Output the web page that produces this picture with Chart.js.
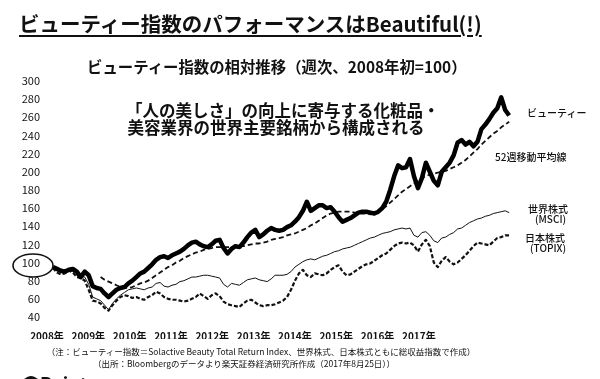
<!DOCTYPE html>
<html lang="ja">
<head>
<meta charset="utf-8">
<title>ビューティー指数のパフォーマンス</title>
<script src="https://cdn.jsdelivr.net/npm/chart.js@4/dist/chart.umd.min.js"></script>
<style>
    html, body { margin: 0; padding: 0; background: #fff; }
    body { width: 600px; height: 379px; position: relative; overflow: hidden;
           font-family: 'Noto Sans CJK JP', 'Noto Sans', sans-serif; color: #111; }
    #wrap { position: absolute; left: 0; top: 0; width: 600px; height: 379px; }
    .txt { position: absolute; white-space: nowrap; line-height: 1; }
    #title { left: 19px; top: 13px; font-size: 20.5px; font-weight: 700;
             text-decoration: underline; text-decoration-thickness: 2px; text-underline-offset: 3px; }
    #subtitle { left: 87px; top: 59px; font-size: 15.4px; font-weight: 700; }
    #note { left: 126px; top: 102px; font-size: 16.5px; font-weight: 700; line-height: 17px; text-align: center; width: 300px; }
    .lbl { font-size: 10px; font-weight: 500; }
    .foot { font-size: 8.5px; text-align: center; }
    #point { left: 22px; top: 374px; font-size: 18px; font-weight: 700; }
</style>
</head>
<body>
<div id="wrap"><canvas id="chart"></canvas></div>

<div class="txt" id="title">ビューティー指数のパフォーマンスはBeautiful(!)</div>
<div class="txt" id="subtitle">ビューティー指数の相対推移（週次、2008年初=100）</div>
<div class="txt" id="note">「人の美しさ」の向上に寄与する化粧品・<br>美容業界の世界主要銘柄から構成される</div>

<div class="txt lbl" style="left:527px; top:108px;">ビューティー</div>
<div class="txt lbl" style="left:495px; top:152px;">52週移動平均線</div>
<div class="txt lbl" style="left:528px; top:204px;">世界株式</div>
<div class="txt lbl" style="left:535px; top:214px;">(MSCI)</div>
<div class="txt lbl" style="left:525px; top:233px;">日本株式</div>
<div class="txt lbl" style="left:530px; top:243px;">(TOPIX)</div>

<div class="txt foot" style="left:0; width:522px; top:347px;">（注：ビューティー指数＝Solactive Beauty Total Return Index、世界株式、日本株式ともに総収益指数で作成）</div>
<div class="txt foot" style="left:0; width:488px; top:359px;">（出所：Bloombergのデータより楽天証券経済研究所作成（2017年8月25日））</div>
<div class="txt" id="point">●Point</div>

<script>
// 月次で読み取った値（2008年1月〜2017年8月、2008年初=100）
const startYear = 2008;
const yearLabels = ['2008年', '2009年', '2010年', '2011年', '2012年', '2013年', '2014年', '2015年', '2016年', '2017年'];

const beauty = [
    95, 93, 91, 90, 92, 93, 90, 84, 90, 86,
    74, 72, 71, 66, 62, 66, 70, 72, 73, 77,
    80, 84, 88, 90, 94, 98, 103, 106, 107, 105,
    108, 110, 112, 115, 119, 122, 123, 120, 118, 117,
    120, 124, 125, 116, 110, 115, 118, 117, 122, 128,
    133, 136, 128, 131, 135, 138, 136, 135, 136, 139,
    141, 145, 150, 157, 167, 157, 160, 163, 163, 160,
    161, 156, 150, 145, 147, 149, 152, 155, 156, 156,
    155, 154, 156, 160, 167, 180, 195, 207, 204, 205,
    214, 195, 182, 193, 210, 200, 190, 185, 200, 205,
    210, 218, 232, 235, 230, 233, 228, 233, 247, 252,
    258, 265, 270, 282, 268, 262
];

const ma52 = [
    null, null, null, null, null, null, null, null, null, null,
    null, null, 84, 81, 79, 77, 75, 73, 72, 72,
    73, 75, 77, 78, 80, 83, 86, 89, 92, 95,
    97, 100, 102, 105, 107, 109, 111, 112, 114, 115,
    116, 117, 117, 117, 117, 117, 117, 118, 118, 119,
    120, 121, 121, 122, 123, 125, 126, 127, 128, 130,
    131, 132, 134, 136, 138, 141, 143, 146, 149, 152,
    154, 155, 156, 156, 156, 156, 155, 155, 154, 154,
    153, 154, 156, 159, 162, 166, 170, 174, 178, 181,
    184, 187, 190, 193, 195, 197, 198, 199, 200, 201,
    203, 205, 207, 210, 213, 217, 221, 225, 230, 234,
    238, 242, 245, 249, 252, 255
];

const msci = [
    94, 91, 89, 89, 91, 90, 86, 85, 84, 76,
    62, 60, 58, 53, 48, 55, 60, 64, 67, 70,
    71, 72, 71, 70, 72, 73, 77, 78, 74, 73,
    75, 76, 79, 80, 82, 84, 84, 85, 86, 86,
    85, 84, 83, 76, 73, 77, 76, 75, 78, 81,
    82, 83, 81, 80, 79, 82, 86, 86, 86, 87,
    90, 95, 98, 101, 103, 104, 103, 105, 107, 108,
    110, 112, 113, 115, 116, 117, 119, 121, 123, 125,
    127, 128, 130, 132, 133, 134, 136, 137, 138, 137,
    138, 130, 128, 133, 134, 130, 124, 122, 127, 128,
    131, 133, 137, 138, 141, 144, 146, 148, 149, 151,
    152, 154, 155, 156, 157, 155
];

const topix = [
    94, 89, 87, 88, 91, 89, 84, 83, 80, 70,
    58, 57, 55, 50, 47, 53, 58, 62, 64, 63,
    61, 62, 60, 59, 62, 64, 68, 66, 62, 60,
    59, 59, 58, 57, 58, 60, 62, 66, 63, 60,
    64, 66, 63, 57, 54, 53, 52, 51, 55, 58,
    59, 56, 53, 52, 53, 53, 54, 56, 58, 62,
    70, 80, 88, 92, 86, 84, 88, 87, 86, 88,
    92, 95, 97, 90, 86, 87, 90, 93, 96, 98,
    99, 102, 105, 108, 110, 114, 118, 121, 122, 121,
    122, 119, 112, 120, 125, 118, 100, 95, 102, 106,
    101, 98, 100, 104, 108, 113, 118, 122, 121, 120,
    119, 123, 127, 128, 130, 130
];

// 年の目盛り（元の図では目盛り文字が等間隔で少し左に寄っている）
const labelStart = 2007.874;
const labelStep = 0.868;

document.addEventListener('DOMContentLoaded', function() {
    const ctx = document.getElementById('chart');

    // 月番号を年の小数に変換
    function toPoints(values) {
        return values.map((v, i) => ({ x: startYear + i / 12, y: v }));
    }

    // 「100」を囲む楕円
    const circle100 = {
        id: 'circle100',
        afterDraw(chart) {
            const y = chart.scales.y.getPixelForValue(100);
            const c = chart.ctx;
            c.save();
            c.beginPath();
            c.ellipse(chart.scales.y.right - 12, y + 3, 20, 11.5, 0, 0, Math.PI * 2);
            c.lineWidth = 1.6;
            c.strokeStyle = '#111';
            c.stroke();
            c.restore();
        }
    };

    Chart.defaults.font.family = "'Noto Sans CJK JP', 'Noto Sans', sans-serif";
    Chart.defaults.color = '#111';

    new Chart(ctx, {
        type: 'line',
        data: {
            datasets: [
                { label: 'ビューティー', data: toPoints(beauty), borderColor: '#000', borderWidth: 4.5 },
                { label: '52週移動平均線', data: toPoints(ma52), borderColor: '#111', borderWidth: 1.8, borderDash: [5, 3] },
                { label: '世界株式(MSCI)', data: toPoints(msci), borderColor: '#111', borderWidth: 1 },
                { label: '日本株式(TOPIX)', data: toPoints(topix), borderColor: '#111', borderWidth: 2.2, borderDash: [4, 2] }
            ]
        },
        options: {
            responsive: true,
            maintainAspectRatio: false,
            animation: false,
            events: [],
            layout: { padding: { top: 81, right: 80, bottom: 40, left: 0 } },
            elements: {
                point: { radius: 0 },
                line: { tension: 0, borderCapStyle: 'butt', borderJoinStyle: 'round' }
            },
            plugins: {
                legend: { display: false },
                tooltip: { enabled: false }
            },
            scales: {
                x: {
                    type: 'linear',
                    min: 2007.832,
                    max: 2017.811,
                    grid: { display: false, drawTicks: false },
                    border: { display: false },
                    afterBuildTicks: function(scale) {
                        scale.ticks = yearLabels.map((_, i) => ({ value: labelStart + i * labelStep }));
                    },
                    afterFit: function(scale) { scale.height = 22; },
                    ticks: {
                        autoSkip: false,
                        maxRotation: 0,
                        padding: 13,
                        font: { size: 10, weight: 'bold' },
                        callback: (value, index) => yearLabels[index]
                    }
                },
                y: {
                    min: 40,
                    max: 300,
                    grid: { display: false, drawTicks: false },
                    border: { display: false },
                    afterFit: function(scale) { scale.width = 45; },
                    ticks: { stepSize: 20, padding: 5, font: { size: 11 } }
                }
            }
        },
        plugins: [circle100]
    });
});
</script>
</body>
</html>
